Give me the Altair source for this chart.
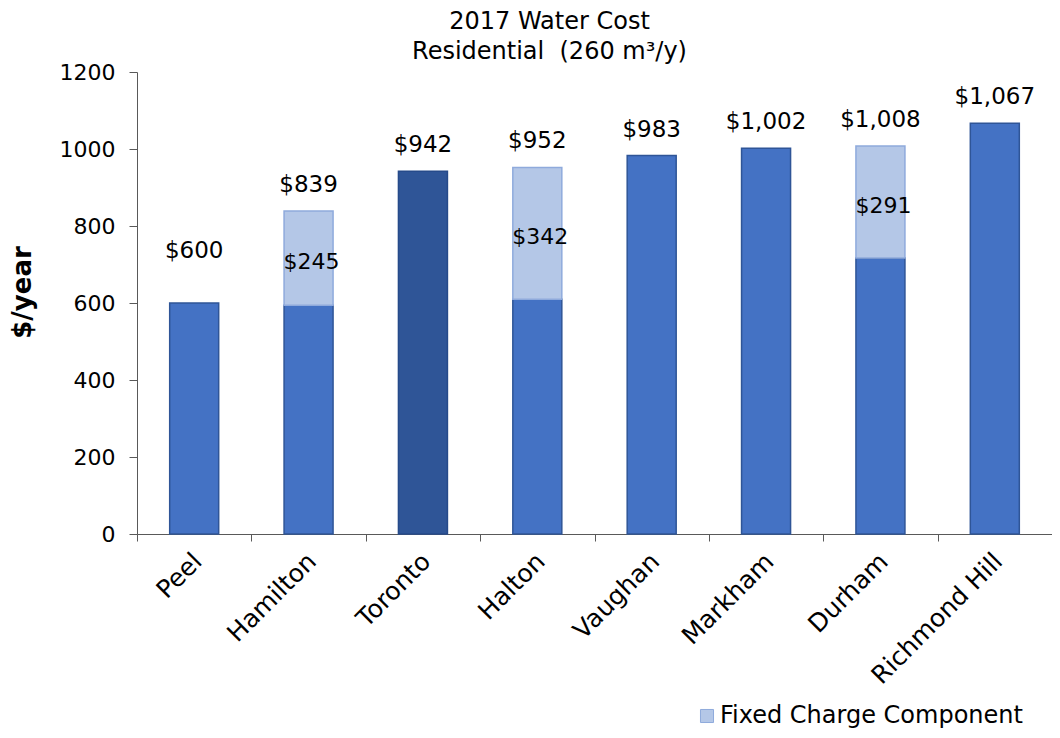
import altair as alt
import pandas as pd

cities = ["Peel", "Hamilton", "Toronto", "Halton", "Vaughan", "Markham", "Durham", "Richmond Hill"]
totals = [600, 839, 942, 952, 983, 1002, 1008, 1067]
fixed = [0, 245, 0, 342, 0, 0, 291, 0]
y_ticks = [0, 200, 400, 600, 800, 1000, 1200]

FONT = "DejaVu Sans"

df = pd.DataFrame({"city": cities, "total": totals, "fixed": fixed})
df["base"] = df["total"] - df["fixed"]
df["total_label"] = df["total"].map(lambda v: "${:,}".format(v))
df["fixed_label"] = df["fixed"].map(lambda v: "${:,}".format(v))
df["mid"] = (df["base"] + df["total"]) / 2
df["component"] = "Fixed Charge Component"

x = alt.X(
    "city:N",
    sort=cities,
    title=None,
    scale=alt.Scale(paddingInner=0, paddingOuter=0),
    axis=alt.Axis(
        labelAngle=-45,
        labelAlign="right",
        labelBaseline="middle",
        labelFont=FONT,
        labelFontSize=25,
        labelColor="black",
        labelPadding=16,
        labelOffset=3,
        tickBand="extent",
        tickSize=7,
        tickColor="#595959",
        domainColor="#595959",
        labelLimit=300,
    ),
)

y_scale = alt.Scale(domain=[0, 1200], nice=False)
y_axis = alt.Axis(
    values=y_ticks,
    format="d",
    grid=False,
    title="$/year",
    titleFont=FONT,
    titleFontSize=26,
    titleFontWeight="bold",
    titleColor="black",
    titleX=-115,
    titleY=220,
    titleAngle=-90,
    titleAlign="center",
    titleBaseline="middle",
    labelFont=FONT,
    labelFontSize=22,
    labelColor="black",
    labelPadding=14,
    tickSize=8,
    tickColor="#595959",
    domainColor="#595959",
)

base = alt.Chart(df)

base_bars = base.mark_bar(strokeWidth=1.5, width=49).encode(
    x=x,
    y=alt.Y("base:Q", scale=y_scale, axis=y_axis),
    y2=alt.datum(0),
    color=alt.condition(alt.datum.city == "Toronto", alt.value("#2F5597"), alt.value("#4472C4")),
    stroke=alt.condition(alt.datum.city == "Toronto", alt.value("#264A8A"), alt.value("#2F5597")),
)

fixed_bars = base.transform_filter(alt.datum.fixed > 0).mark_bar(
    stroke="#8FAADC", strokeWidth=1.5, width=49
).encode(
    x=x,
    y=alt.Y("base:Q", scale=y_scale),
    y2="total:Q",
    color=alt.Color(
        "component:N",
        scale=alt.Scale(domain=["Fixed Charge Component"], range=["#B4C7E7"]),
        legend=alt.Legend(
            title=None,
            orient="none",
            legendX=558,
            legendY=632,
            symbolType="square",
            symbolSize=170,
            symbolStrokeColor="#8FAADC",
            symbolStrokeWidth=1,
            labelFont=FONT,
            labelFontSize=24,
            labelColor="black",
            labelOffset=1,
            labelLimit=500,
            padding=0,
        ),
    ),
)

total_labels = base.transform_filter(alt.datum.city != "Peel").mark_text(
    font=FONT, fontSize=23, color="black", baseline="alphabetic", dy=-19
).encode(x=x, y=alt.Y("total:Q", scale=y_scale), text="total_label:N")

peel_label = base.transform_filter(alt.datum.city == "Peel").mark_text(
    font=FONT, fontSize=23, color="black", baseline="alphabetic", dy=-45
).encode(x=x, y=alt.Y("total:Q", scale=y_scale), text="total_label:N")

fixed_labels = base.transform_filter(alt.datum.fixed > 0).mark_text(
    font=FONT, fontSize=22, color="black", baseline="middle", dy=4, dx=3
).encode(x=x, y=alt.Y("mid:Q", scale=y_scale), text="fixed_label:N")

chart = alt.layer(base_bars, fixed_bars, total_labels, peel_label, fixed_labels).properties(
    width=915,
    height=462,
    title=alt.TitleParams(
        text=["2017 Water Cost", "Residential\u00a0\u00a0(260 m³/y)"],
        font=FONT,
        fontSize=24,
        fontWeight="normal",
        color="black",
        anchor="middle",
        frame="group",
        dx=-45,
        dy=13,
        offset=10,
        lineHeight=30,
    ),
    autosize=alt.AutoSizeParams(type="none"),
    padding={"left": 129, "top": 64, "right": 0, "bottom": 196},
    background="white",
).configure_view(stroke=None)

chart.save("out.html", embed_options={"renderer": "svg", "actions": False})
